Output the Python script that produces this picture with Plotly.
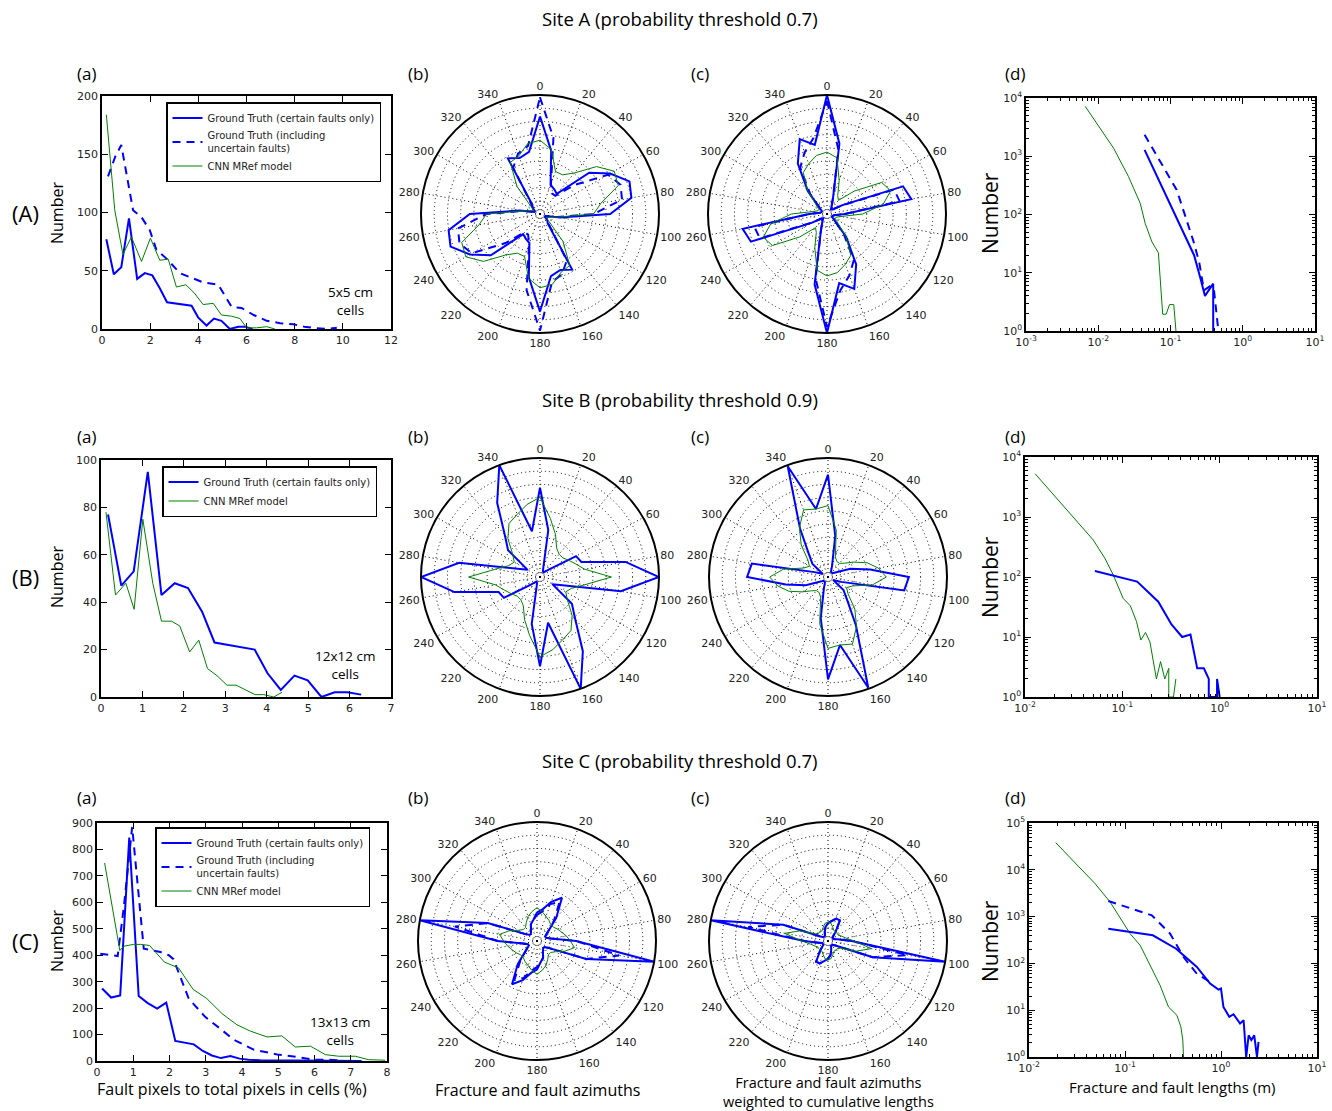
import plotly.graph_objects as go

W, H = 1332, 1111
BLUE = "#0000ff"
GREEN = "#008000"

# ---------------- Site A ----------------
A_a_gt_x = [0.18, 0.49, 0.80, 1.12, 1.46, 1.78, 2.09, 2.40, 2.70, 3.05, 3.40, 3.72, 3.99, 4.34, 4.65, 4.96, 5.31, 5.66, 5.94, 6.25]
A_a_gt_y = [77, 47, 53, 95, 43, 48, 46, 35, 23, 22, 21, 20, 10, 3, 9, 7, 0, 2, 2, 0]
A_a_gtu_x = [0.25, 0.55, 0.80, 1.10, 1.29, 1.64, 1.98, 2.26, 2.70, 3.23, 3.72, 4.20, 4.83, 5.38, 5.80, 6.30, 6.84, 7.40, 7.95, 8.40, 8.78, 9.33, 9.75]
A_a_gtu_y = [131, 148, 158, 125, 102, 96, 85, 68, 60, 48, 44, 40, 38, 19, 18, 12, 7, 5, 4, 2, 1, 0, 1]
A_a_cnn_x = [0.18, 0.53, 0.87, 1.22, 1.64, 2.01, 2.40, 2.75, 3.09, 3.48, 3.83, 4.20, 4.62, 4.96, 5.38, 5.73, 6.00, 6.42, 6.84, 7.18]
A_a_cnn_y = [184, 102, 64, 79, 58, 78, 59, 60, 36, 38, 31, 21, 22, 12, 11, 9, 1, 1, 2, 0]

# azimuth bins 0..170 (axial data, mirrored to 180..350)
AZ = list(range(0, 180, 10))
A_b_gt = [0.82, 0.54, 0.26, 0.24, 0.22, 0.54, 0.68, 0.80, 0.78, 0.59, 0.17, 0.05, 0.05, 0.08, 0.10, 0.54, 0.50, 0.53]
A_b_gtu = [0.98, 0.65, 0.27, 0.20, 0.20, 0.38, 0.66, 0.72, 0.70, 0.45, 0.15, 0.05, 0.05, 0.08, 0.12, 0.45, 0.54, 0.58]
A_b_cnn = [0.62, 0.55, 0.38, 0.38, 0.45, 0.62, 0.72, 0.70, 0.52, 0.45, 0.15, 0.08, 0.06, 0.10, 0.30, 0.50, 0.52, 0.60]
A_c_gt = [1.00, 0.60, 0.15, 0.08, 0.05, 0.06, 0.15, 0.68, 0.72, 0.15, 0.06, 0.05, 0.05, 0.08, 0.25, 0.49, 0.67, 0.59]
A_c_gtu = [0.95, 0.55, 0.15, 0.08, 0.05, 0.06, 0.14, 0.60, 0.62, 0.15, 0.06, 0.05, 0.05, 0.08, 0.22, 0.45, 0.55, 0.65]
A_c_cnn = [0.52, 0.48, 0.30, 0.18, 0.15, 0.30, 0.53, 0.57, 0.48, 0.30, 0.12, 0.08, 0.08, 0.12, 0.25, 0.40, 0.45, 0.50]

A_d_cnn_x = [0.0066, 0.0163, 0.0262, 0.0381, 0.0447, 0.0552, 0.068, 0.078, 0.087, 0.097, 0.111, 0.119]
A_d_cnn_y = [7190, 1377, 448, 156, 70, 34, 22, 1.94, 1.94, 2.84, 2.84, 1.0]
A_d_gt_x = [0.0438, 0.212, 0.26, 0.30, 0.39, 0.39]
A_d_gt_y = [1290, 20, 8, 4, 6.5, 1]
A_d_gtu_x = [0.0438, 0.122, 0.206, 0.25, 0.29, 0.36, 0.40, 0.46]
A_d_gtu_y = [2340, 264, 36, 15, 5, 6, 5, 1]

# ---------------- Site B ----------------
B_a_gt_x = [0.17, 0.49, 0.79, 1.13, 1.46, 1.78, 2.10, 2.44, 2.74, 3.71, 4.02, 4.34, 4.67, 4.99, 5.32, 5.64, 5.95, 6.28]
B_a_gt_y = [77, 47, 53, 95, 43, 48, 46, 36, 23, 20, 10, 3, 9, 7, 0, 2, 2, 1]
B_a_cnn_x = [0.12, 0.35, 0.60, 0.80, 1.01, 1.25, 1.46, 1.70, 1.90, 2.14, 2.36, 2.57, 2.80, 3.04, 3.26, 3.72, 3.93, 4.17, 4.37]
B_a_cnn_y = [78, 43, 48, 37, 75, 48, 32, 32, 30, 19, 24, 12, 9, 5, 5, 1, 1, 0, 2]

B_b_gt = [0.75, 0.40, 0.08, 0.05, 0.05, 0.10, 0.35, 0.37, 0.73, 1.00, 0.69, 0.20, 0.12, 0.35, 0.46, 0.72, 1.00, 0.39]
B_b_cnn = [0.67, 0.50, 0.38, 0.28, 0.25, 0.25, 0.28, 0.32, 0.38, 0.60, 0.38, 0.28, 0.25, 0.30, 0.42, 0.52, 0.56, 0.62]
B_c_gt = [0.86, 0.35, 0.10, 0.05, 0.05, 0.05, 0.08, 0.20, 0.36, 0.68, 0.65, 0.12, 0.05, 0.17, 0.25, 0.47, 0.99, 0.58]
B_c_cnn = [0.60, 0.40, 0.18, 0.15, 0.15, 0.18, 0.25, 0.35, 0.43, 0.49, 0.38, 0.22, 0.18, 0.22, 0.35, 0.48, 0.60, 0.58]

B_d_cnn_x = [0.0127, 0.0301, 0.0502, 0.0662, 0.0807, 0.102, 0.121, 0.14, 0.155, 0.173, 0.192, 0.224, 0.247, 0.273, 0.30, 0.30, 0.335, 0.355]
B_d_cnn_y = [5265, 1087, 415, 205, 108, 44, 33, 18, 8.9, 11.9, 8.3, 2.0, 3.9, 2.0, 3.0, 1.0, 1.0, 2.0]
B_d_gt_x = [0.0523, 0.142, 0.234, 0.32, 0.412, 0.501, 0.588, 0.688, 0.773, 0.773, 0.94, 0.94, 1.0]
B_d_gt_y = [126, 84, 38.7, 16.2, 10, 11, 3, 3, 2, 1, 1, 2, 1]

# ---------------- Site C ----------------
C_a_gt_x = [0.14, 0.39, 0.64, 0.89, 1.15, 1.40, 1.66, 1.91, 2.16, 2.41, 2.67, 2.92, 3.17, 3.42, 3.68, 3.93, 4.18, 4.5, 5.0, 5.5, 6.0, 6.5, 7.0, 7.3]
C_a_gt_y = [274, 240, 248, 845, 246, 219, 198, 221, 76, 69, 63, 38, 21, 11, 19, 9, 5, 3, 2, 1, 1, 0, 0, 0]
C_a_gtu_x = [0.09, 0.35, 0.57, 0.74, 0.97, 1.29, 1.52, 1.75, 1.98, 2.11, 2.53, 2.99, 3.40, 3.77, 4.32, 4.97, 5.52, 5.98, 6.34, 6.8]
C_a_gtu_y = [406, 400, 397, 582, 885, 425, 418, 412, 400, 385, 236, 166, 122, 81, 43, 25, 15, 5, 5, 2]
C_a_cnn_x = [0.21, 0.63, 0.74, 1.01, 1.20, 1.45, 1.86, 2.25, 2.65, 3.03, 3.45, 3.86, 4.23, 4.69, 5.10, 5.47, 5.89, 6.30, 6.67, 7.13, 7.49, 7.95]
C_a_cnn_y = [749, 418, 434, 441, 441, 437, 374, 352, 271, 236, 179, 137, 113, 91, 95, 53, 56, 24, 18, 18, 5, 3]

C_b_gt = [0.24, 0.27, 0.35, 0.42, 0.25, 0.12, 0.08, 0.08, 0.12, 0.33, 1.00, 0.44, 0.12, 0.08, 0.08, 0.10, 0.15, 0.18]
C_b_gtu = [0.22, 0.25, 0.33, 0.38, 0.22, 0.12, 0.08, 0.08, 0.12, 0.33, 0.70, 0.44, 0.12, 0.08, 0.08, 0.10, 0.15, 0.18]
C_b_cnn = [0.28, 0.25, 0.22, 0.20, 0.18, 0.18, 0.20, 0.22, 0.25, 0.28, 0.32, 0.25, 0.18, 0.15, 0.15, 0.18, 0.22, 0.25]
C_c_gt = [0.15, 0.17, 0.20, 0.20, 0.10, 0.05, 0.05, 0.05, 0.08, 0.20, 1.00, 0.40, 0.08, 0.05, 0.05, 0.05, 0.08, 0.12]
C_c_gtu = [0.15, 0.17, 0.20, 0.20, 0.10, 0.05, 0.05, 0.05, 0.08, 0.20, 0.68, 0.40, 0.08, 0.05, 0.05, 0.05, 0.08, 0.12]
C_c_cnn = [0.16, 0.15, 0.12, 0.10, 0.10, 0.10, 0.10, 0.12, 0.15, 0.22, 0.37, 0.25, 0.12, 0.10, 0.10, 0.10, 0.12, 0.15]

C_d_cnn_x = [0.019, 0.0488, 0.07, 0.113, 0.144, 0.183, 0.232, 0.284, 0.347, 0.382, 0.40, 0.407]
C_d_cnn_y = [38000, 5054, 2050, 432, 243, 91, 34, 11.7, 7.8, 4.4, 2.3, 1.0]
C_d_gt_x = [0.067, 0.195, 0.341, 0.56, 0.77, 0.942, 1.0, 1.06, 1.22, 1.35, 1.58, 1.72, 1.83, 1.94, 2.07, 2.22, 2.37, 2.46]
C_d_gt_y = [552, 398, 206, 84, 37, 27.5, 29, 11.7, 7.2, 8.2, 5.2, 6.1, 1.0, 2.9, 2.3, 2.9, 1.0, 2.1]
C_d_gtu_x = [0.067, 0.19, 0.295, 0.407, 0.56, 0.77]
C_d_gtu_y = [2154, 1065, 432, 137, 60, 40]

LEG_GT = "Ground Truth (certain faults only)"
LEG_GTU = "Ground Truth (including<br>uncertain faults)"
LEG_CNN = "CNN MRef model"

fig = go.Figure()


def px(x):
    return x / W


def py(y):
    return 1 - y / H


SOLID = dict(color=BLUE, width=2)
DASH = dict(color=BLUE, width=2, dash="8px,6px")
THIN = dict(color=GREEN, width=1)


def line(x, y, ln, ax, name=None, legend=None):
    fig.add_trace(go.Scatter(x=x, y=y, mode="lines", line=ln, xaxis="x" + ax, yaxis="y" + ax,
                             name=name, showlegend=legend is not None,
                             legend=legend if legend else "legend"))


def rose(vals, ln, pol):
    full = vals + vals
    th = [a for a in AZ] + [a + 180 for a in AZ]
    fig.add_trace(go.Scatterpolar(r=full + [full[0]], theta=th + [th[0]], mode="lines",
                                  line=ln, subplot=pol, showlegend=False))


# Row A
line(A_a_gt_x, A_a_gt_y, SOLID, "", LEG_GT, "legend")
line(A_a_gtu_x, A_a_gtu_y, DASH, "", LEG_GTU, "legend")
line(A_a_cnn_x, A_a_cnn_y, THIN, "", LEG_CNN, "legend")
rose(A_b_gt, SOLID, "polar"); rose(A_b_gtu, DASH, "polar"); rose(A_b_cnn, THIN, "polar")
rose(A_c_gt, SOLID, "polar2"); rose(A_c_gtu, DASH, "polar2"); rose(A_c_cnn, THIN, "polar2")
line(A_d_cnn_x, A_d_cnn_y, THIN, "2")
line(A_d_gt_x, A_d_gt_y, SOLID, "2")
line(A_d_gtu_x, A_d_gtu_y, DASH, "2")

# Row B
line(B_a_gt_x, B_a_gt_y, SOLID, "3", LEG_GT, "legend2")
line(B_a_cnn_x, B_a_cnn_y, THIN, "3", LEG_CNN, "legend2")
rose(B_b_gt, SOLID, "polar3"); rose(B_b_cnn, THIN, "polar3")
rose(B_c_gt, SOLID, "polar4"); rose(B_c_cnn, THIN, "polar4")
line(B_d_cnn_x, B_d_cnn_y, THIN, "4")
line(B_d_gt_x, B_d_gt_y, SOLID, "4")

# Row C
line(C_a_gt_x, C_a_gt_y, SOLID, "5", LEG_GT, "legend3")
line(C_a_gtu_x, C_a_gtu_y, DASH, "5", LEG_GTU, "legend3")
line(C_a_cnn_x, C_a_cnn_y, THIN, "5", LEG_CNN, "legend3")
rose(C_b_gt, SOLID, "polar5"); rose(C_b_gtu, DASH, "polar5"); rose(C_b_cnn, THIN, "polar5")
rose(C_c_gt, SOLID, "polar6"); rose(C_c_gtu, DASH, "polar6"); rose(C_c_cnn, THIN, "polar6")
line(C_d_cnn_x, C_d_cnn_y, THIN, "6")
line(C_d_gt_x, C_d_gt_y, SOLID, "6")
line(C_d_gtu_x, C_d_gtu_y, DASH, "6")

TICKFONT = dict(family="DejaVu Sans", size=11, color="#222")


def axis(dom, rng, dtick, anchor, log=False):
    d = dict(domain=dom, range=rng, anchor=anchor, automargin=False, showline=True,
             linecolor="black", linewidth=1.5,
             mirror="ticks", ticks="inside", ticklen=6, tickcolor="black", tickwidth=1,
             tickfont=TICKFONT, showgrid=False, zeroline=False)
    if log:
        exps = list(range(rng[0], rng[1] + 1))
        d.update(type="log", tickmode="array",
                 tickvals=[10.0 ** e for e in exps],
                 ticktext=["10<sup>%d</sup>" % e for e in exps],
                 minor=dict(tickmode="array",
                            tickvals=[m * 10.0 ** e for e in exps[:-1] for m in range(2, 10)],
                            ticks="inside", ticklen=3, tickcolor="black", showgrid=False))
    else:
        d.update(dtick=dtick)
    return d


def xdom(l, r):
    return [px(l), px(r)]


def ydom(t, b):
    return [py(b), py(t)]


layout = dict(
    width=W, height=H, margin=dict(l=0, r=0, t=0, b=0, autoexpand=False),
    paper_bgcolor="white", plot_bgcolor="white",
    xaxis=axis(xdom(102, 391), [0, 12], 2, "y"),
    yaxis=axis(ydom(96, 329), [0, 200], 50, "x"),
    xaxis2=axis(xdom(1026, 1315), [-3, 1], 1, "y2", True),
    yaxis2=axis(ydom(98, 331), [0, 4], 1, "x2", True),
    xaxis3=axis(xdom(101, 391), [0, 7], 1, "y3"),
    yaxis3=axis(ydom(460, 697), [0, 100], 20, "x3"),
    xaxis4=axis(xdom(1025, 1317), [-2, 1], 1, "y4", True),
    yaxis4=axis(ydom(457, 697), [0, 4], 1, "x4", True),
    xaxis5=axis(xdom(97, 387), [0, 8], 1, "y5"),
    yaxis5=axis(ydom(823, 1061), [0, 900], 100, "x5"),
    xaxis6=axis(xdom(1029, 1317), [-2, 1], 1, "y6", True),
    yaxis6=axis(ydom(823, 1057), [0, 5], 1, "x6", True),
)

R = 119
centers = {"polar": (540, 214), "polar2": (827, 214), "polar3": (540, 577),
           "polar4": (828, 577), "polar5": (537, 941), "polar6": (828, 941)}
for name, (cx, cy) in centers.items():
    layout[name] = dict(
        domain=dict(x=xdom(cx - R, cx + R), y=ydom(cy - R, cy + R)),
        bgcolor="white",
        radialaxis=dict(range=[0, 1], tickmode="array", tickvals=[i / 9 for i in range(1, 9)],
                        showticklabels=False, ticks="", showline=False,
                        gridcolor="black", griddash="1px,3px", gridwidth=1),
        angularaxis=dict(rotation=90, direction="clockwise", tickmode="array",
                         tickvals=list(range(0, 360, 20)),
                         ticktext=[str(v) for v in range(0, 360, 20)],
                         ticks="", showline=True, linecolor="black", linewidth=2,
                         gridcolor="black", griddash="1px,3px", gridwidth=1, tickfont=TICKFONT),
    )

LEGSTYLE = dict(bgcolor="white", bordercolor="black", borderwidth=1.5,
                font=dict(family="DejaVu Sans", size=10, color="#222"),
                xanchor="left", yanchor="top", tracegroupgap=0, itemwidth=30)
layout["legend"] = dict(x=px(166), y=py(102), **LEGSTYLE)
layout["legend2"] = dict(x=px(162), y=py(466), **LEGSTYLE)
layout["legend3"] = dict(x=px(155), y=py(827), **LEGSTYLE)

fig.update_layout(**layout)

TXT = "Open Sans"


def ann(text, x, y, size, angle=0, family=TXT, xanchor="center"):
    fig.add_annotation(text=text, x=px(x), y=py(y), xref="paper", yref="paper", showarrow=False,
                       font=dict(family=family, size=size, color="black"), textangle=angle,
                       xanchor=xanchor, yanchor="middle")


ann("Site A (probability threshold 0.7)", 680, 18, 18.5)
ann("Site B (probability threshold 0.9)", 680, 399, 18.5)
ann("Site C (probability threshold 0.7)", 680, 760, 18.5)
for lab, y in [("(A)", 213), ("(B)", 577), ("(C)", 941)]:
    ann(lab, 25, y, 22)
for ty in [73, 437, 797]:
    ann("(a)", 86, ty, 17)
    ann("(b)", 418, ty, 17)
    ann("(c)", 700, ty, 17)
    ann("(d)", 1015, ty, 17)
for cy in [213, 577, 941]:
    ann("Number", 57, cy, 16, -90)
    ann("Number", 990, cy, 21, -90)
ann("5x5 cm<br>cells", 350, 301, 13.5)
ann("12x12 cm<br>cells", 345, 665, 13.5)
ann("13x13 cm<br>cells", 340, 1031, 13.5)
ann("Fault pixels to total pixels in cells (%)", 232, 1089, 16)
ann("Fracture and fault azimuths", 537, 1090, 16)
ann("Fracture and fault azimuths<br>weighted to cumulative lengths", 828, 1092, 14.5)
ann("Fracture and fault lengths (m)", 1172, 1087, 15)

fig.write_html("out.html", config={"displayModeBar": False},
               post_script="document.body.style.margin='0';document.body.style.overflow='hidden';")
